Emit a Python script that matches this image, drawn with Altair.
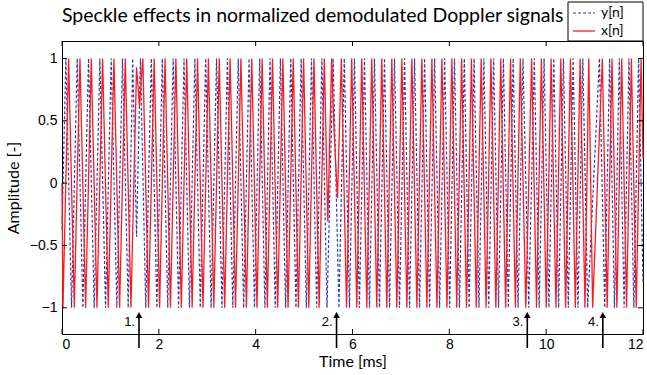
import altair as alt
import pandas as pd

# ---- data: vertex times [ms] and amplitudes ----
x_t = [0, 0.02, 0.137, 0.254, 0.371, 0.488, 0.605, 0.722, 0.839, 0.956, 1.073, 1.19, 1.307, 1.424,
       1.54, 1.60, 1.67, 1.787, 1.904,
       2.016, 2.128, 2.24, 2.352, 2.464, 2.576, 2.688, 2.80, 2.912, 3.024, 3.136, 3.248, 3.36, 3.472, 3.584, 3.696, 3.808, 3.92,
       4.027, 4.134, 4.241, 4.348, 4.455, 4.562, 4.669, 4.776, 4.883, 4.99, 5.097, 5.204, 5.311, 5.418,
       5.49, 5.57, 5.62, 5.69, 5.77, 5.877, 5.984,
       6.088, 6.191, 6.295, 6.398, 6.502, 6.605, 6.709, 6.812, 6.916, 7.019, 7.123, 7.226, 7.33, 7.433, 7.537, 7.64, 7.744, 7.847, 7.951,
       8.052, 8.153, 8.254, 8.355, 8.456, 8.557, 8.658, 8.759, 8.86, 8.961, 9.062, 9.163, 9.264, 9.365, 9.466, 9.58, 9.70, 9.801, 9.902,
       10.002, 10.102, 10.202, 10.302, 10.402, 10.502, 10.602, 10.702, 10.802, 10.88, 10.96, 11.16, 11.26, 11.36, 11.46, 11.56, 11.66, 11.76, 11.86, 11.96,
       12.0]
x_v = [0, -1, 1, -1, 1, -1, 1, -1, 1, -1, 1, -1, 1, -1,
       0.93, 0.62, 1, -1, 1,
       -1, 1, -1, 1, -1, 1, -1, 1, -1, 1, -1, 1, -1, 1, -1, 1, -1, 1,
       -1, 1, -1, 1, -1, 1, -1, 1, -1, 1, -1, 1, -1, 1,
       -0.31, 1, 0.41, -0.12, 1, -1, 1,
       -1, 1, -1, 1, -1, 1, -1, 1, -1, 1, -1, 1, -1, 1, -1, 1, -1, 1, -1,
       1, -1, 1, -1, 1, -1, 1, -1, 1, -1, 1, -1, 1, -1, 1, -1, 1, -1, 1,
       -1, 1, -1, 1, -1, 1, -1, 1, -1, 1, -1, 1, -1, 1, -1, 1, -1, 1, -1, 1,
       0.2]

y_t = [0, 0.08, 0.197, 0.314, 0.431, 0.548, 0.665, 0.782, 0.899, 1.016, 1.133, 1.25, 1.367,
       1.46, 1.54, 1.62, 1.73, 1.845, 1.96,
       2.072, 2.184, 2.296, 2.408, 2.52, 2.632, 2.744, 2.856, 2.968, 3.08, 3.192, 3.304, 3.416, 3.528, 3.64, 3.752, 3.864, 3.976,
       4.083, 4.19, 4.297, 4.404, 4.511, 4.618, 4.725, 4.832, 4.939, 5.046, 5.153, 5.26, 5.367, 5.474,
       5.60, 5.72, 5.83, 5.937, 6.04,
       6.143, 6.247, 6.35, 6.454, 6.557, 6.661, 6.764, 6.868, 6.971, 7.075, 7.178, 7.282, 7.385, 7.489, 7.592, 7.696, 7.799, 7.903, 8.006,
       8.107, 8.208, 8.309, 8.41, 8.511, 8.612, 8.713, 8.814, 8.915, 9.016, 9.117, 9.218, 9.319, 9.42, 9.521,
       9.64, 9.755, 9.856, 9.957,
       10.057, 10.157, 10.257, 10.357, 10.457, 10.557, 10.657, 10.757, 10.857,
       11.10, 11.21, 11.31, 11.41, 11.51, 11.61, 11.71, 11.81, 11.91,
       12.0]
y_v = [-0.37, 1, -1, 1, -1, 1, -1, 1, -1, 1, -1, 1, -1,
       1, -0.43, 1, -1, 1, -1,
       1, -1, 1, -1, 1, -1, 1, -1, 1, -1, 1, -1, 1, -1, 1, -1, 1, -1,
       1, -1, 1, -1, 1, -1, 1, -1, 1, -1, 1, -1, 1, -1,
       1, -1, 1, -1, 1,
       -1, 1, -1, 1, -1, 1, -1, 1, -1, 1, -1, 1, -1, 1, -1, 1, -1, 1, -1,
       1, -1, 1, -1, 1, -1, 1, -1, 1, -1, 1, -1, 1, -1, 1,
       -1, 1, -1, 1,
       -1, 1, -1, 1, -1, 1, -1, 1, -1,
       1, -1, 1, -1, 1, -1, 1, -1, 1,
       -0.8]

event_t = [1.59, 5.67, 9.61, 11.17]
event_lbl = ["1.", "2.", "3.", "4."]
x_ticks = [0, 2, 4, 6, 8, 10, 12]
y_ticks = [-1, -0.5, 0, 0.5, 1]
legend_lbl = ["y[n]", "x[n]"]

W, H = 581, 293
xs = alt.Scale(domain=[0, 12], nice=False, zero=False)
ys = alt.Scale(domain=[-1.21, 1.14], nice=False, zero=False)

TFONT = "Lato"
NFONT = "Liberation Sans"
RED = "#ff1a1a"
BLUE = "#2a3fbf"

AX = alt.Axis(values=x_ticks, title="Time [ms]", grid=False, ticks=False, domain=False,
              labelFont=NFONT, labelFontSize=14, labelPadding=3, labelColor="black",
              titleFont=TFONT, titleFontSize=16, titleFontWeight="normal", titleColor="black",
              titlePadding=2)
AY = alt.Axis(values=y_ticks, format="~g", title="Amplitude [-]", grid=False, ticks=False,
              domain=False, labelFont=NFONT, labelFontSize=14, labelPadding=5, labelColor="black",
              titleFont=TFONT, titleFontSize=16, titleFontWeight="normal", titleColor="black",
              titlePadding=8)

df_x = pd.DataFrame({"t": x_t, "v": x_v, "i": list(range(len(x_t)))})
df_y = pd.DataFrame({"t": y_t, "v": y_v, "i": list(range(len(y_t)))})

line_y = alt.Chart(df_y).mark_line(color=BLUE, strokeWidth=1.2, strokeDash=[3, 2]).encode(
    x=alt.X("t:Q", scale=xs, axis=AX),
    y=alt.Y("v:Q", scale=ys, axis=AY),
    order="i:Q",
)
line_x = alt.Chart(df_x).mark_line(color=RED, strokeWidth=1.3).encode(
    x=alt.X("t:Q", scale=xs, axis=AX),
    y=alt.Y("v:Q", scale=ys, axis=AY),
    order="i:Q",
)

df_xt = pd.DataFrame({"t": x_ticks})
df_yt = pd.DataFrame({"v": y_ticks})
tick_b = alt.Chart(df_xt).mark_rule(color="black", strokeWidth=1).encode(
    x=alt.X("t:Q", scale=xs, axis=AX), y=alt.value(H), y2=alt.value(H - 5))
tick_t = alt.Chart(df_xt).mark_rule(color="black", strokeWidth=1).encode(
    x=alt.X("t:Q", scale=xs, axis=AX), y=alt.value(0), y2=alt.value(5))
tick_l = alt.Chart(df_yt).mark_rule(color="black", strokeWidth=1).encode(
    y=alt.Y("v:Q", scale=ys, axis=AY), x=alt.value(0), x2=alt.value(5))
tick_r = alt.Chart(df_yt).mark_rule(color="black", strokeWidth=1).encode(
    y=alt.Y("v:Q", scale=ys, axis=AY), x=alt.value(W), x2=alt.value(W - 5))

df_ev = pd.DataFrame({"t": event_t, "lbl": event_lbl})
arrow_shaft = alt.Chart(df_ev).mark_rule(color="black", strokeWidth=1.6).encode(
    x=alt.X("t:Q", scale=xs, axis=AX), y=alt.value(H + 14), y2=alt.value(H - 17))
arrow_head = alt.Chart(df_ev).mark_point(shape="triangle-up", filled=True, size=45, color="black",
                                         opacity=1).encode(
    x=alt.X("t:Q", scale=xs, axis=AX), y=alt.value(H - 19))
arrow_lbl = alt.Chart(df_ev).mark_text(align="right", baseline="middle", font=NFONT, fontSize=13,
                                       dx=-4, color="black").encode(
    x=alt.X("t:Q", scale=xs, axis=AX), y=alt.value(H - 12), text="lbl:N")

one = pd.DataFrame({"a": [0]})
title = alt.Chart(one).mark_text(align="left", baseline="middle", font=TFONT, fontSize=19.5,
                                 color="black").encode(
    x=alt.value(0), y=alt.value(-25),
    text=alt.value("Speckle effects in normalized demodulated Doppler signals"))

leg_box = alt.Chart(one).mark_rect(fill="white", stroke="black", strokeWidth=1).encode(
    x=alt.value(506), x2=alt.value(581), y=alt.value(-39), y2=alt.value(0))
leg_y = alt.Chart(one).mark_rule(color=BLUE, strokeWidth=1.2, strokeDash=[3, 2]).encode(
    x=alt.value(511), x2=alt.value(533), y=alt.value(-28))
leg_x = alt.Chart(one).mark_rule(color=RED, strokeWidth=1.3).encode(
    x=alt.value(511), x2=alt.value(533), y=alt.value(-10))
leg_txt_y = alt.Chart(one).mark_text(align="left", baseline="middle", font=TFONT, fontSize=14,
                                     color="black").encode(
    x=alt.value(539), y=alt.value(-28), text=alt.value(legend_lbl[0]))
leg_txt_x = alt.Chart(one).mark_text(align="left", baseline="middle", font=TFONT, fontSize=14,
                                     color="black").encode(
    x=alt.value(539), y=alt.value(-10), text=alt.value(legend_lbl[1]))

chart = alt.layer(
    line_y, line_x, tick_b, tick_t, tick_l, tick_r,
    arrow_shaft, arrow_head, arrow_lbl, title, leg_box, leg_y, leg_x, leg_txt_y, leg_txt_x,
).properties(
    width=W, height=H,
    padding={"left": 62, "top": 41, "right": 4, "bottom": 41},
    autosize=alt.AutoSizeParams(type="none"),
    background="white",
).configure_view(stroke="black", strokeWidth=1)

chart.save("out.html", embed_options={"renderer": "svg", "actions": False})
